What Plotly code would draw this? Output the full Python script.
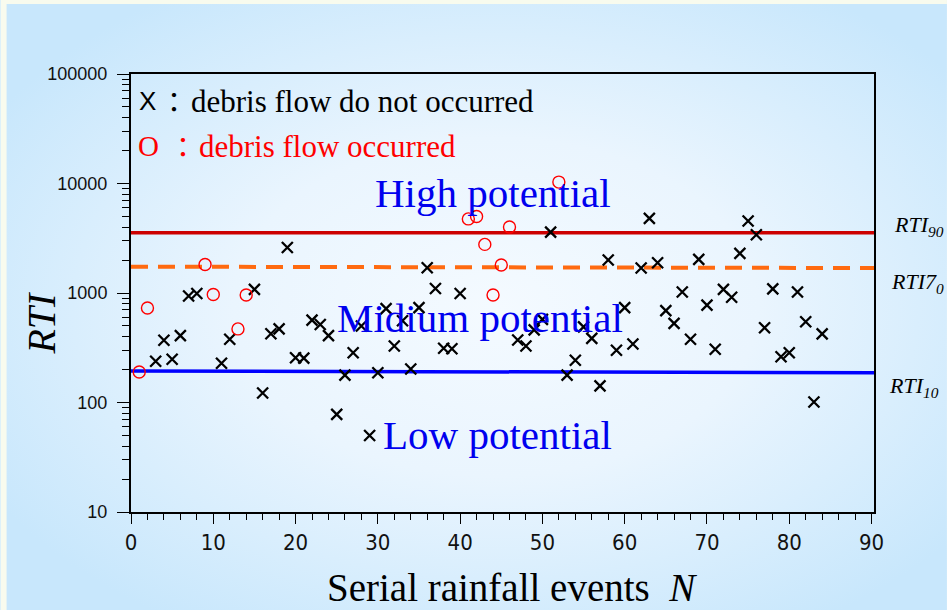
import base64
import plotly.graph_objects as go

# ---------------- data ----------------
N_no = [3, 4, 5, 6, 7, 8, 11, 12, 15, 16, 17, 18, 19, 20, 21, 22, 23, 24, 25, 26, 27, 28, 29, 30,
        31, 32, 33, 34, 35, 36, 37, 38, 39, 40, 47, 48, 49, 50, 51, 53, 54, 55, 56, 57, 58, 59, 60,
        61, 62, 63, 64, 65, 66, 67, 68, 69, 70, 71, 72, 73, 74, 75, 76, 77, 78, 79, 80, 81, 82, 83, 84]
RTI_no = [238, 370, 248, 408, 940, 990, 228, 378, 1080, 122, 425, 470, 2600, 256, 254, 566, 515, 408,
          78, 178, 285, 500, 50, 187, 720, 328, 558, 202, 735, 1700, 1100, 313, 310, 990, 372, 328,
          460, 575, 3600, 178, 243, 490, 385, 142, 2000, 300, 735, 342, 1690, 4800, 1890, 690, 528,
          1020, 378, 2030, 775, 306, 1080, 915, 2300, 4550, 3400, 482, 1090, 262, 285, 1020, 547, 101, 423]

N_yes = [1, 2, 9, 10, 13, 14, 41, 42, 43, 44, 45, 46, 52]
RTI_yes = [190, 730, 1820, 970, 470, 960, 4750, 5000, 2780, 960, 1800, 4000, 10300]

line_x = [0, 90.3]
rti90 = [3550, 3550]
rti70 = [1740, 1690]
rti10 = [194, 187]

x_ticks = [0, 10, 20, 30, 40, 50, 60, 70, 80, 90]

# ---------------- geometry helpers ----------------
W, H = 947, 610
L, R, T, B = 130.5, 73, 74, 98
PW, PH = W - L - R, H - T - B


def px(x):
    return (x - L) / PW


def py(y):
    return (H - B - y) / PH


serif = "Liberation Serif, Times New Roman, serif"
sans = "Liberation Sans, Arial, sans-serif"
cjk = "Noto Sans CJK JP"

fig = go.Figure()

fig.add_trace(go.Scatter(x=line_x, y=rti90, mode="lines",
                         line=dict(color="#cc0000", width=3.5), hoverinfo="skip", showlegend=False))
fig.add_trace(go.Scatter(x=line_x, y=rti70, mode="lines",
                         line=dict(color="#ff6a10", width=4, dash="17px,10px"), hoverinfo="skip", showlegend=False))
fig.add_trace(go.Scatter(x=line_x, y=rti10, mode="lines",
                         line=dict(color="#0000ff", width=3.5), hoverinfo="skip", showlegend=False))

fig.add_trace(go.Scatter(x=N_no, y=RTI_no, mode="markers", showlegend=False,
                         marker=dict(symbol="x-thin", size=11, line=dict(color="black", width=2.3))))
fig.add_trace(go.Scatter(x=N_yes, y=RTI_yes, mode="markers", showlegend=False,
                         marker=dict(symbol="circle-open", size=12, color="#ff0000",
                                     line=dict(color="#ff0000", width=1.4))))

# background gradient
svg = ('<svg xmlns="http://www.w3.org/2000/svg" width="947" height="610">'
       '<defs><radialGradient id="g" cx="0.52" cy="0.5" r="0.62">'
       '<stop offset="0" stop-color="#f4faff"/><stop offset="0.45" stop-color="#eaf5fe"/>'
       '<stop offset="1" stop-color="#c8e7fc"/></radialGradient></defs>'
       '<rect width="947" height="610" fill="#f8fbee"/>'
       '<rect x="6" y="4" width="941" height="606" fill="url(#g)"/></svg>')
src = "data:image/svg+xml;base64," + base64.b64encode(svg.encode()).decode()
fig.add_layout_image(dict(source=src, xref="paper", yref="paper", x=px(0), y=py(0),
                          sizex=W / PW, sizey=H / PH, xanchor="left", yanchor="top",
                          sizing="stretch", layer="below"))

ann = []


def add_text(text, x, y, size, color="black", family=serif, xanchor="center", yanchor="middle",
             textangle=0):
    ann.append(dict(text=text, x=px(x), y=py(y), xref="paper", yref="paper", showarrow=False,
                    xanchor=xanchor, yanchor=yanchor, textangle=textangle,
                    font=dict(size=size, color=color, family=family)))


# legend-like texts
add_text("X", 137, 101, 26, "black", sans, xanchor="left")
add_text("：", 174, 101, 28, "black", cjk)
add_text("debris flow do not occurred", 189, 101, 31, "black", serif, xanchor="left")
add_text("O", 136, 146, 29, "#ff0000", serif, xanchor="left")
add_text("：", 183, 146, 28, "#ff0000", cjk)
add_text("debris flow occurred", 197, 146, 31, "#ff0000", serif, xanchor="left")

# regions
add_text("High potential", 493, 193, 41, "#0000ee")
add_text("Midium potential", 480, 318, 41, "#0000ee")
add_text("Low potential", 497, 435, 41, "#0000ee")

# RTI labels
add_text("<i>RTI<sub>90</sub></i>", 892, 226, 22, "black", serif, xanchor="left")
add_text("<i>RTI7<sub>0</sub></i>", 889, 283, 22, "black", serif, xanchor="left")
add_text("<i>RTI<sub>10</sub></i>", 887, 387, 22, "black", serif, xanchor="left")

# axis titles
add_text("<i>RTI</i>", 40, 323, 40, "black", serif, textangle=-90)
add_text("Serial rainfall events  <i>N</i>", 512, 587, 39, "black", serif)

fig.update_layout(
    width=W, height=H,
    margin=dict(l=L, r=R, t=T, b=B),
    paper_bgcolor="#d8eefc",
    plot_bgcolor="rgba(0,0,0,0)",
    annotations=ann,
    showlegend=False,
)

fig.update_xaxes(range=[0, 90.3], tickvals=x_ticks, ticks="outside", ticklen=10, tickwidth=1.2,
                 tickcolor="black", showline=True, linecolor="black", linewidth=2, mirror=True,
                 showgrid=False, zeroline=False,
                 tickfont=dict(family="Liberation Sans Narrow, DejaVu Sans Condensed, Arial Narrow, Arial",
                               size=22, color="#111"),
                 minor=dict(dtick=2, ticks="outside", ticklen=6, tickwidth=1.2, tickcolor="black", showgrid=False))
fig.update_yaxes(type="log", range=[1, 5], dtick=1, tickformat="d", ticks="outside", ticklen=12,
                 tickwidth=1.2, tickcolor="black", showline=True, linecolor="black", linewidth=2,
                 mirror=True, showgrid=False, zeroline=False,
                 tickfont=dict(family=sans, size=18, color="#111"), ticklabelstandoff=6,
                 minor=dict(ticks="outside", ticklen=7, tickwidth=1.2, tickcolor="black", showgrid=False))

fig.write_html("out.html", config={"displayModeBar": False},
               post_script="document.body.style.margin='0px';")
